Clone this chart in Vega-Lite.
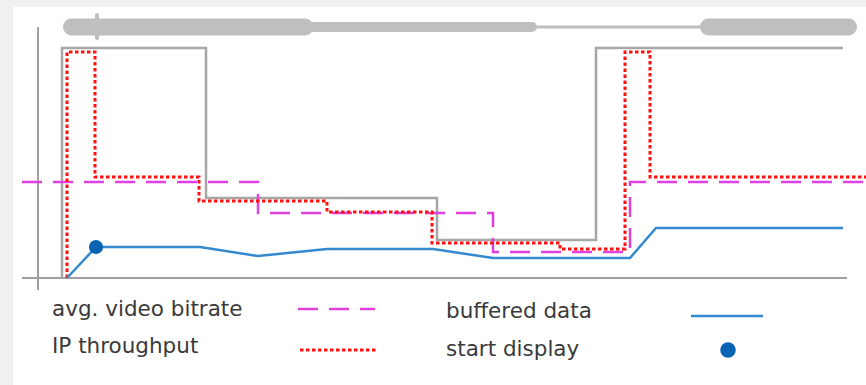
{
  "$schema": "https://vega.github.io/schema/vega-lite/v6.json",
  "width": 853,
  "height": 378,
  "autosize": {"type": "none"},
  "padding": {"left": 13, "top": 7, "right": 0, "bottom": 0},
  "background": "#f0f0f0",
  "config": {"view": {"fill": "white", "stroke": null}},
  "encoding": {
    "x": {"field": "x", "type": "quantitative", "scale": {"domain": [13, 866], "nice": false, "zero": false}, "axis": null},
    "y": {"field": "y", "type": "quantitative", "scale": {"domain": [0, 378], "nice": false, "zero": false}, "axis": null}
  },
  "layer": [
    {
      "data": {"values": [
        {"x": 22, "x2": 847, "y": 107, "y2": 107},
        {"x": 38, "x2": 38, "y": 358, "y2": 95}
      ]},
      "mark": {"type": "rule", "color": "#a0a0a0", "strokeWidth": 2},
      "encoding": {"x2": {"field": "x2"}, "y2": {"field": "y2"}}
    },
    {
      "data": {"values": [
        {"x": 71.5, "x2": 305, "y": 358, "y2": 358, "w": 17},
        {"x": 305, "x2": 532, "y": 358, "y2": 358, "w": 10},
        {"x": 532, "x2": 705, "y": 358, "y2": 358, "w": 3},
        {"x": 708.5, "x2": 848.5, "y": 358, "y2": 358, "w": 17},
        {"x": 97, "x2": 97, "y": 370, "y2": 347, "w": 4}
      ]},
      "mark": {"type": "rule", "color": "#bfbfbf", "strokeCap": "round"},
      "encoding": {"x2": {"field": "x2"}, "y2": {"field": "y2"}, "strokeWidth": {"field": "w", "type": "quantitative", "scale": null}}
    },
    {
      "data": {"values": [
        {"i": 0, "x": 62, "y": 107}, {"i": 1, "x": 62, "y": 337}, {"i": 2, "x": 206, "y": 337},
        {"i": 3, "x": 206, "y": 187}, {"i": 4, "x": 437, "y": 187}, {"i": 5, "x": 437, "y": 145},
        {"i": 6, "x": 596, "y": 145}, {"i": 7, "x": 596, "y": 337}, {"i": 8, "x": 843, "y": 337}
      ]},
      "mark": {"type": "line", "color": "#a6a6a6", "strokeWidth": 2.5},
      "encoding": {"order": {"field": "i", "type": "quantitative"}}
    },
    {
      "data": {"values": [
        {"i": 0, "x": 22, "y": 203}, {"i": 1, "x": 258, "y": 203}, {"i": 2, "x": 258, "y": 172},
        {"i": 3, "x": 493, "y": 172}, {"i": 4, "x": 493, "y": 133}, {"i": 5, "x": 630, "y": 133},
        {"i": 6, "x": 630, "y": 203}, {"i": 7, "x": 866, "y": 203}
      ]},
      "mark": {"type": "line", "color": "#e040e0", "strokeWidth": 2.5, "strokeDash": [20, 11]},
      "encoding": {"order": {"field": "i", "type": "quantitative"}}
    },
    {
      "data": {"values": [
        {"i": 0, "x": 67, "y": 107}, {"i": 1, "x": 67, "y": 333}, {"i": 2, "x": 95, "y": 333},
        {"i": 3, "x": 95, "y": 208}, {"i": 4, "x": 199, "y": 208}, {"i": 5, "x": 199, "y": 184},
        {"i": 6, "x": 327, "y": 184}, {"i": 7, "x": 327, "y": 173}, {"i": 8, "x": 432, "y": 173},
        {"i": 9, "x": 432, "y": 142}, {"i": 10, "x": 560, "y": 142}, {"i": 11, "x": 560, "y": 136},
        {"i": 12, "x": 625, "y": 136}, {"i": 13, "x": 625, "y": 333}, {"i": 14, "x": 650, "y": 333},
        {"i": 15, "x": 650, "y": 208}, {"i": 16, "x": 866, "y": 208}
      ]},
      "mark": {"type": "line", "color": "#ff1010", "strokeWidth": 3, "strokeDash": [3.5, 2.5]},
      "encoding": {"order": {"field": "i", "type": "quantitative"}}
    },
    {
      "data": {"values": [
        {"i": 0, "x": 67, "y": 107}, {"i": 1, "x": 96, "y": 138}, {"i": 2, "x": 200, "y": 138},
        {"i": 3, "x": 258, "y": 129}, {"i": 4, "x": 327, "y": 136}, {"i": 5, "x": 433, "y": 136},
        {"i": 6, "x": 493, "y": 127}, {"i": 7, "x": 630, "y": 127}, {"i": 8, "x": 656, "y": 157},
        {"i": 9, "x": 843, "y": 157}
      ]},
      "mark": {"type": "line", "color": "#3589cf", "strokeWidth": 2.5},
      "encoding": {"order": {"field": "i", "type": "quantitative"}}
    },
    {
      "data": {"values": [{"x": 96, "y": 138}]},
      "mark": {"type": "circle", "color": "#0863b3", "opacity": 1, "size": 200}
    },
    {
      "data": {"values": [{"x": 728, "y": 35}]},
      "mark": {"type": "circle", "color": "#0863b3", "opacity": 1, "size": 240}
    },
    {
      "data": {"values": [{"x": 298, "x2": 375, "y": 76, "y2": 76}]},
      "mark": {"type": "rule", "color": "#e040e0", "strokeWidth": 2.5, "strokeDash": [20, 11]},
      "encoding": {"x2": {"field": "x2"}, "y2": {"field": "y2"}}
    },
    {
      "data": {"values": [{"x": 300, "x2": 377, "y": 35, "y2": 35}]},
      "mark": {"type": "rule", "color": "#ff1010", "strokeWidth": 3, "strokeDash": [3.5, 2.5]},
      "encoding": {"x2": {"field": "x2"}, "y2": {"field": "y2"}}
    },
    {
      "data": {"values": [{"x": 691, "x2": 763, "y": 69, "y2": 69}]},
      "mark": {"type": "rule", "color": "#3589cf", "strokeWidth": 2.5},
      "encoding": {"x2": {"field": "x2"}, "y2": {"field": "y2"}}
    },
    {
      "data": {"values": [
        {"x": 52, "y": 75, "t": "avg. video bitrate"},
        {"x": 52, "y": 38, "t": "IP throughput"},
        {"x": 446, "y": 73, "t": "buffered data"},
        {"x": 446, "y": 35, "t": "start display"}
      ]},
      "mark": {"type": "text", "align": "left", "baseline": "middle", "font": "DejaVu Sans", "fontSize": 21.5, "color": "#3a3a3a"},
      "encoding": {"text": {"field": "t"}}
    }
  ]
}
